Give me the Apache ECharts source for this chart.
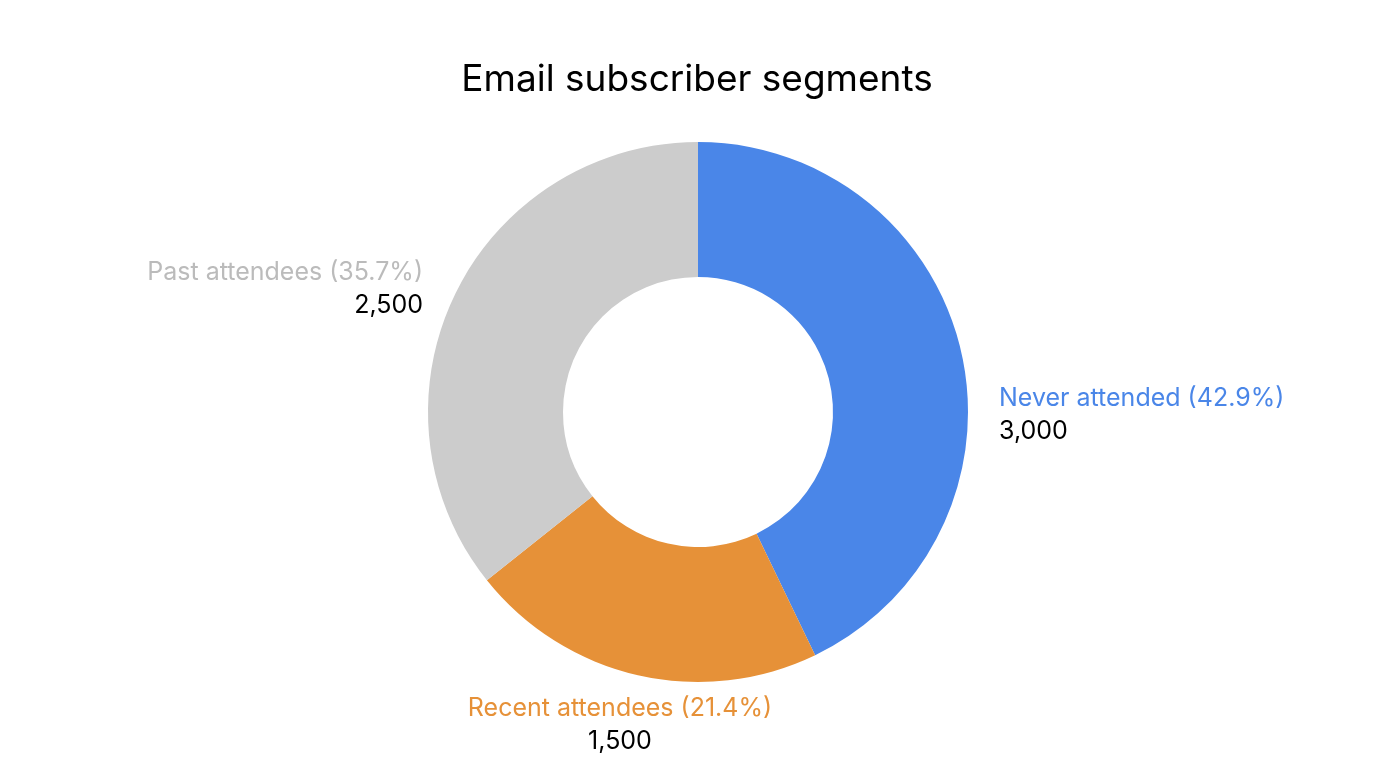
<!DOCTYPE html>
<html>
<head>
<meta charset="utf-8">
<script src="https://cdn.jsdelivr.net/npm/echarts@6/dist/echarts.min.js"></script>
<style>
  html, body { margin: 0; padding: 0; background: #ffffff; }
  #chart { width: 1394px; height: 778px; }
</style>
</head>
<body>
<div id="chart"></div>
<script>
const title = 'Email subscriber segments';
const categories = ['Never attended', 'Recent attendees', 'Past attendees'];
const values = [3000, 1500, 2500];
const sliceColors = ['#4a86e8', '#e69138', '#cccccc'];
const labelColors = ['#4a86e8', '#e69138', '#bbbbbb'];

const FONT = 'Inter, Roboto, sans-serif';

// label anchor placements (fractions of chart size) mimicking the reference layout
const labelPlace = [
  { fx: 999 / 1394, fy: 414.5 / 778, align: 'left' },
  { fx: 620 / 1394, fy: 724.5 / 778, align: 'center' },
  { fx: 423 / 1394, fy: 289 / 778, align: 'right' }
];

const chart = echarts.init(document.getElementById('chart'), null, { renderer: 'canvas' });

const data = categories.map((name, i) => ({
  name: name,
  value: values[i],
  itemStyle: { color: sliceColors[i] },
  label: {
    rich: {
      n: { color: labelColors[i], fontSize: 25, lineHeight: 33, fontFamily: FONT, align: labelPlace[i].align },
      v: { color: '#000000', fontSize: 25, lineHeight: 33, fontFamily: FONT, align: labelPlace[i].align }
    }
  }
}));

chart.setOption({
  backgroundColor: '#ffffff',
  animation: false,
  title: {
    text: title,
    left: 'center',
    top: 56,
    textStyle: { fontFamily: FONT, fontSize: 37, fontWeight: 'normal', color: '#000000' }
  },
  series: [{
    type: 'pie',
    center: [698, 412],
    radius: [135, 270],
    startAngle: 90,
    clockwise: true,
    percentPrecision: 1,
    avoidLabelOverlap: false,
    itemStyle: { borderWidth: 0 },
    emphasis: { disabled: true },
    label: {
      show: true,
      position: 'outside',
      formatter: function (p) {
        return '{n|' + p.name + ' (' + p.percent.toFixed(1) + '%)}\n{v|' + p.value.toLocaleString('en-US') + '}';
      }
    },
    labelLine: { show: false },
    labelLayout: function (params) {
      const pl = labelPlace[params.dataIndex];
      return {
        x: pl.fx * chart.getWidth(),
        y: pl.fy * chart.getHeight(),
        align: pl.align,
        verticalAlign: 'middle'
      };
    },
    data: data
  }]
});
</script>
</body>
</html>
